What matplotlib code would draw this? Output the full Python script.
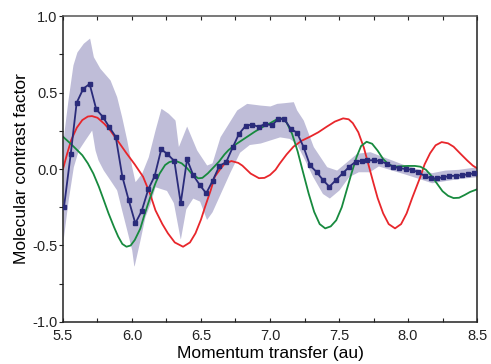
import numpy as np
import matplotlib
matplotlib.use("Agg")
import matplotlib.pyplot as plt
from matplotlib.ticker import MultipleLocator

plt.rcParams['font.family'] = ['Liberation Sans', 'DejaVu Sans']

meas_q = [5.507, 5.556, 5.599, 5.647, 5.693, 5.741, 5.788, 5.836, 5.882, 5.930,
          5.976, 6.024, 6.070, 6.118, 6.164, 6.212, 6.256,
          6.307, 6.353, 6.399, 6.444, 6.493, 6.538, 6.585, 6.633, 6.683, 6.730,
          6.775, 6.824, 6.870, 6.918, 6.964,
          7.012, 7.060, 7.101, 7.150, 7.196, 7.244, 7.290, 7.338, 7.384, 7.430,
          7.478, 7.527, 7.575, 7.621, 7.667,
          7.705, 7.754, 7.797, 7.846, 7.893, 7.937, 7.986, 8.029, 8.075, 8.123,
          8.167, 8.212, 8.256, 8.299, 8.346, 8.389, 8.433, 8.480]
meas_val = [-0.250, 0.098, 0.433, 0.525, 0.556, 0.390, 0.342, 0.273, 0.211, -0.050,
            -0.203, -0.355, -0.275, -0.133, -0.046, 0.129, 0.098,
            0.052, -0.224, 0.063, -0.041, -0.107, -0.159, -0.076, 0.020, 0.046, 0.142,
            0.229, 0.283, 0.290, 0.276, 0.294,
            0.286, 0.325, 0.329, 0.263, 0.237, 0.142, 0.024, -0.020, -0.072, -0.116,
            -0.072, -0.028, 0.015, 0.048, 0.054,
            0.057, 0.057, 0.052, 0.035, 0.015, 0.005, 0.000, -0.005, -0.022, -0.046,
            -0.061, -0.061, -0.054, -0.046, -0.044, -0.041, -0.035, -0.028]

# uncertainty band edges
band_up_q = [5.5, 5.536, 5.572, 5.601, 5.647, 5.693, 5.72, 5.768, 5.841, 5.889,
             5.925, 5.962, 5.998, 6.022, 6.070, 6.118, 6.167, 6.210, 6.263, 6.312,
             6.336, 6.396, 6.469, 6.541, 6.58, 6.638, 6.759, 6.831, 6.928, 7.0,
             7.049, 7.096, 7.169, 7.193, 7.241, 7.314, 7.411, 7.483, 7.556, 7.628,
             7.725, 7.785, 7.882, 7.978, 8.075, 8.172, 8.268, 8.365, 8.5]
band_up = [0.19, 0.45, 0.68, 0.765, 0.822, 0.856, 0.734, 0.658, 0.582, 0.473,
           0.342, 0.190, 0.015, -0.083, -0.028, 0.080, 0.255, 0.397, 0.364, 0.320,
           0.146, 0.281, 0.124, 0.026, 0.04, 0.211, 0.386, 0.429, 0.418, 0.412,
           0.429, 0.433, 0.440, 0.386, 0.320, 0.146, 0.015, -0.007, 0.048, 0.103,
           0.113, 0.092, 0.059, 0.026, -0.002, -0.024, -0.007, -0.002, 0.015]
band_lo_q = [5.5, 5.538, 5.575, 5.611, 5.659, 5.708, 5.732, 5.754, 5.792, 5.841,
             5.889, 5.925, 5.962, 5.998, 6.014, 6.058, 6.094, 6.130, 6.167, 6.215,
             6.25, 6.30, 6.35, 6.39, 6.44, 6.49, 6.54, 6.58, 6.65, 6.71,
             6.78, 6.85, 6.93, 7.0, 7.07, 7.14, 7.19, 7.24, 7.31, 7.38,
             7.43, 7.5, 7.57, 7.64, 7.72, 7.785, 7.882, 7.978, 8.075, 8.172,
             8.268, 8.365, 8.5]
band_lo = [-0.47, -0.2, 0.015, 0.124, 0.19, 0.255, 0.124, 0.059, -0.007, -0.072,
           -0.137, -0.268, -0.399, -0.529, -0.639, -0.464, -0.312, -0.229, -0.116, -0.13,
           -0.14, -0.22, -0.46, -0.26, -0.19, -0.21, -0.33, -0.28, -0.14, -0.02,
           0.11, 0.16, 0.17, 0.19, 0.21, 0.20, 0.168, 0.08, -0.05, -0.16,
           -0.19, -0.137, -0.05, -0.018, -0.018, 0.02, -0.007, -0.033, -0.061, -0.09,
           -0.076, -0.063, -0.05]

# theory curves
red_q = [5.50, 5.53, 5.56, 5.60, 5.64, 5.68, 5.71, 5.75, 5.80, 5.84,
         5.90, 5.96, 6.02, 6.08, 6.13, 6.17, 6.22, 6.26, 6.31, 6.37,
         6.42, 6.46, 6.50, 6.53, 6.57, 6.60, 6.64, 6.67, 6.72, 6.77,
         6.80, 6.86, 6.92, 6.96, 7.00, 7.04, 7.07, 7.12, 7.17, 7.23,
         7.29, 7.35, 7.41, 7.47, 7.53, 7.57, 7.60, 7.64, 7.68, 7.71,
         7.75, 7.78, 7.82, 7.86, 7.906, 7.95, 7.99, 8.03, 8.09, 8.12,
         8.16, 8.20, 8.244, 8.29, 8.33, 8.38, 8.43, 8.47, 8.50]
red_val = [0.00, 0.10, 0.19, 0.27, 0.32, 0.343, 0.346, 0.335, 0.295, 0.255,
           0.18, 0.103, 0.03, -0.05, -0.16, -0.27, -0.36, -0.42, -0.48, -0.508,
           -0.48, -0.42, -0.33, -0.246, -0.14, -0.05, 0.00, 0.033, 0.052, 0.04,
           0.022, -0.03, -0.06, -0.058, -0.039, -0.005, 0.035, 0.095, 0.146, 0.185,
           0.211, 0.24, 0.276, 0.31, 0.331, 0.325, 0.30, 0.24, 0.14, 0.04,
           -0.093, -0.19, -0.29, -0.36, -0.388, -0.36, -0.29, -0.19, -0.05, 0.03,
           0.103, 0.155, 0.176, 0.168, 0.146, 0.10, 0.055, 0.022, 0.005]
green_q = [5.50, 5.55, 5.59, 5.64, 5.68, 5.72, 5.76, 5.79, 5.83, 5.87,
           5.90, 5.93, 5.96, 5.99, 6.02, 6.06, 6.09, 6.13, 6.17, 6.20,
           6.24, 6.27, 6.30, 6.33, 6.36, 6.40, 6.43, 6.48, 6.51, 6.55,
           6.59, 6.63, 6.67, 6.70, 6.75, 6.80, 6.85, 6.89, 6.95, 7.00,
           7.05, 7.085, 7.12, 7.16, 7.20, 7.24, 7.28, 7.32, 7.36, 7.40,
           7.44, 7.48, 7.52, 7.556, 7.59, 7.628, 7.66, 7.70, 7.74, 7.78,
           7.82, 7.86, 7.90, 7.95, 8.00, 8.05, 8.09, 8.13, 8.17, 8.21,
           8.25, 8.29, 8.33, 8.37, 8.41, 8.45, 8.50]
green_val = [0.211, 0.17, 0.135, 0.09, 0.037, -0.03, -0.116, -0.19, -0.29, -0.38,
             -0.442, -0.49, -0.508, -0.50, -0.464, -0.39, -0.30, -0.19, -0.093, -0.03,
             0.026, 0.045, 0.052, 0.048, 0.037, 0.005, -0.028, -0.061, -0.058, -0.028,
             0.01, 0.048, 0.095, 0.124, 0.16, 0.19, 0.22, 0.244, 0.276, 0.299,
             0.325, 0.33, 0.305, 0.23, 0.116, -0.023, -0.16, -0.28, -0.36, -0.388,
             -0.375, -0.335, -0.25, -0.137, -0.03, 0.08, 0.15, 0.178, 0.165, 0.12,
             0.065, 0.03, 0.015, 0.018, 0.02, 0.02, 0.015, -0.005, -0.045, -0.095,
             -0.145, -0.175, -0.19, -0.188, -0.17, -0.15, -0.133]

# --- figure ---
fig = plt.figure(figsize=(4.91, 3.64), dpi=100)
ax = fig.add_axes([0.1283, 0.1154, 0.8432, 0.8406])

grid = np.linspace(5.5, 8.5, 1200)
up = np.interp(grid, band_up_q, band_up)
lo = np.interp(grid, band_lo_q, band_lo)
ax.fill_between(grid, lo, up, color='#bfbdd8', lw=0, zorder=1)

ax.plot(red_q, red_val, color='#e8262b', lw=1.3, zorder=2)
ax.plot(green_q, green_val, color='#178a3e', lw=1.3, zorder=2)
ax.plot(meas_q, meas_val, color='#2a2b7a', lw=1.3, marker='s', ms=3.2,
        mec='#2a2b7a', mfc='#2a2b7a', zorder=3)

ax.set_xlim(5.5, 8.5)
ax.set_ylim(-1.0, 1.0)
ax.xaxis.set_major_locator(MultipleLocator(0.5))
ax.xaxis.set_minor_locator(MultipleLocator(0.25))
ax.yaxis.set_major_locator(MultipleLocator(0.5))
ax.yaxis.set_minor_locator(MultipleLocator(0.25))
ax.xaxis.set_major_formatter(plt.FormatStrFormatter('%.1f'))
ax.yaxis.set_major_formatter(plt.FormatStrFormatter('%.1f'))

ax.tick_params(axis='x', which='both', direction='in', top=True, length=3,
               width=0.8, labelsize=10.5, pad=5, colors='#222222')
ax.tick_params(axis='y', which='both', direction='out', right=False, length=3,
               width=0.8, labelsize=10.5, pad=1, colors='#222222')

for side in ['left', 'bottom', 'right']:
    ax.spines[side].set_linewidth(1.1)
    ax.spines[side].set_color('#222222')
ax.spines['top'].set_linewidth(1.1)
ax.spines['top'].set_color('#555555')

ax.set_xlabel('Momentum transfer (au)', fontsize=12.5, labelpad=2)
ax.set_ylabel('Molecular contrast factor', fontsize=12.5, labelpad=2)

fig.savefig('out.png', dpi=100)
